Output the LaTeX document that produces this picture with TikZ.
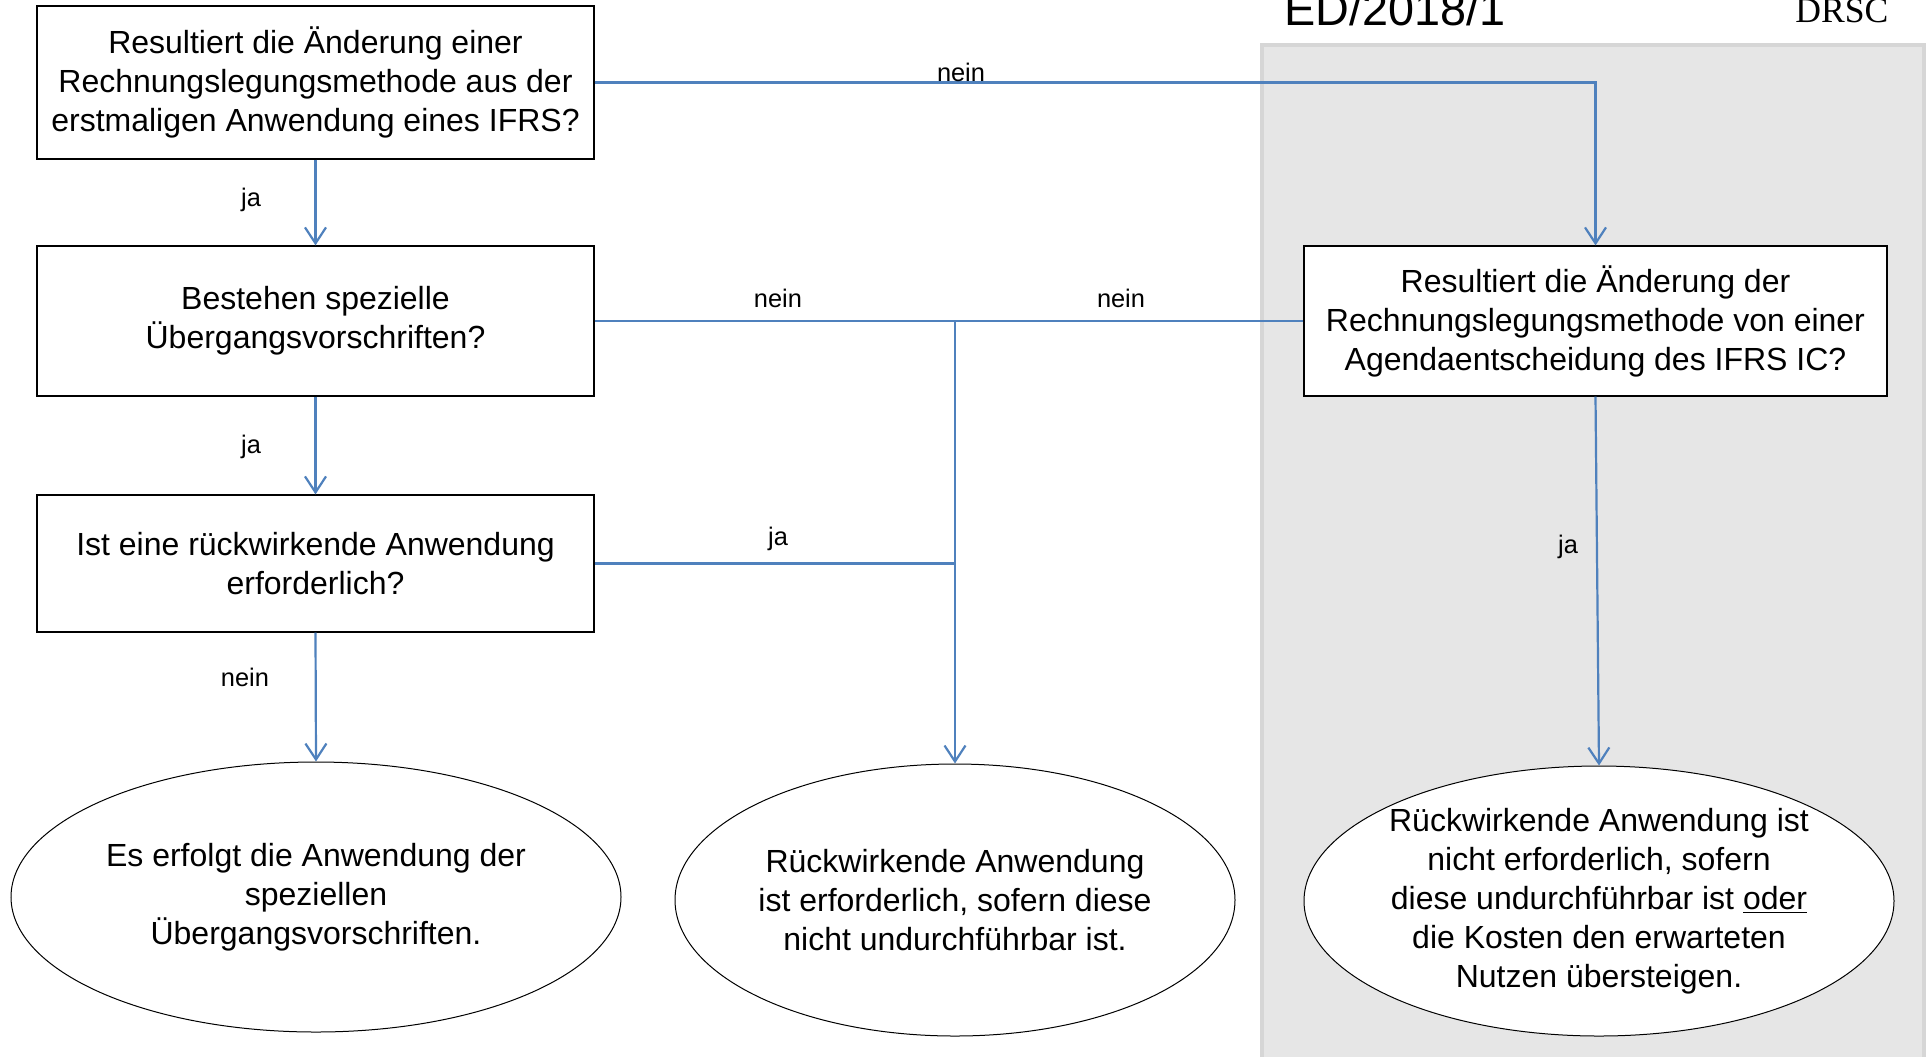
\documentclass[tikz,border=0pt]{standalone}
\usepackage{fontspec}
\setmainfont{Liberation Sans}
\newfontfamily\drscfont{Liberation Serif}
\usetikzlibrary{shapes.geometric,arrows.meta}
\definecolor{flowblue}{RGB}{79,129,189}
\definecolor{panelfill}{RGB}{230,230,230}
\definecolor{paneledge}{RGB}{214,214,214}
\begin{document}
\begin{tikzpicture}[x=0.5pt,y=-0.5pt,
  qbox/.style={draw=black,line width=0.6pt,fill=white,rectangle,inner sep=0pt,minimum width=278.5pt,align=center,font=\fontsize{16}{19.5}\selectfont},
  endshape/.style={draw=black,line width=0.5pt,fill=white,ellipse,inner sep=0pt},
  endtext/.style={align=center,font=\fontsize{16}{19.5}\selectfont,inner sep=0pt},
  lbl/.style={font=\fontsize{12.7}{15}\selectfont,anchor=base,inner sep=0pt},
  flow/.style={draw=flowblue,line width=1.1pt},
  arr/.style={flow,-{Straight Barb[length=8pt,width=10.5pt]}}]
\useasboundingbox (0,0) rectangle (1927,1056);
\clip (0,0) rectangle (1927,1056);
% grey panel
\path[fill=panelfill,draw=paneledge,line width=2pt] (1262,45) rectangle (1924,1070);
% header
\node[anchor=base west,inner sep=0pt,font=\fontsize{23.4}{28}\selectfont] (hd) at (1284,25) {ED/2018/1};
\node[anchor=base west,inner sep=0pt,font=\drscfont\fontsize{17.8}{20}\selectfont] (drsc) at (1795,22) {DRSC};
% boxes
\node[qbox,minimum height=76.5pt] (b1) at (315.5,82.5) {Resultiert die Änderung einer\\Rechnungslegungsmethode aus der\\erstmaligen Anwendung eines IFRS?};
\node[qbox,minimum height=75pt] (b2) at (315.5,321) {Bestehen spezielle\\Übergangsvorschriften?};
\node[qbox,minimum height=68.5pt] (b3) at (315.5,563.5) {Ist eine rückwirkende Anwendung\\erforderlich?};
\node[qbox,minimum width=291.5pt,minimum height=75pt] (b4) at (1595.5,321) {Resultiert die Änderung der\\Rechnungslegungsmethode von einer\\Agendaentscheidung des IFRS IC?};
% end ellipses
\node[endshape,minimum width=305pt,minimum height=135pt] (e1) at (316,897) {};
\node[endtext] (t1) at (e1.center) {Es erfolgt die Anwendung der\\speziellen\\Übergangsvorschriften.};
\node[endshape,minimum width=280pt,minimum height=136pt] (e2) at (955,900) {};
\node[endtext] (t2) at (e2.center) {Rückwirkende Anwendung\\ist erforderlich, sofern diese\\nicht undurchführbar ist.};
\node[endshape,minimum width=295pt,minimum height=135pt] (e3) at (1599,901) {};
\node[endtext] (t3) at (e3.center) {Rückwirkende Anwendung ist\\nicht erforderlich, sofern\\diese undurchführbar ist \underline{oder}\\die Kosten den erwarteten\\Nutzen übersteigen.};
% connectors
\coordinate (j1) at (955,321);
\coordinate (j2) at (955,563.5);
\draw[arr] (b1.south) -- (b2.north);
\draw[arr] (b2.south) -- (b3.north);
\draw[arr] (b3.south) -- (e1.north);
\draw[arr] (b1.east) -| (b4.north);
\draw[flow] (b2.east) -- (j1);
\draw[flow] (b4.west) -- (j1);
\draw[flow] (b3.east) -- (j2);
\draw[arr] (j1) -- (e2.north);
\draw[arr] (b4.south) -- (e3.north);
% labels
\node[lbl] (l1) at (961,81) {nein};
\node[lbl] (l2) at (251,206) {ja};
\node[lbl] (l3) at (251,453) {ja};
\node[lbl] (l4) at (245,686) {nein};
\node[lbl] (l5) at (778,307) {nein};
\node[lbl] (l6) at (1121,307) {nein};
\node[lbl] (l7) at (778,545) {ja};
\node[lbl] (l8) at (1568,553) {ja};
\end{tikzpicture}
\end{document}
